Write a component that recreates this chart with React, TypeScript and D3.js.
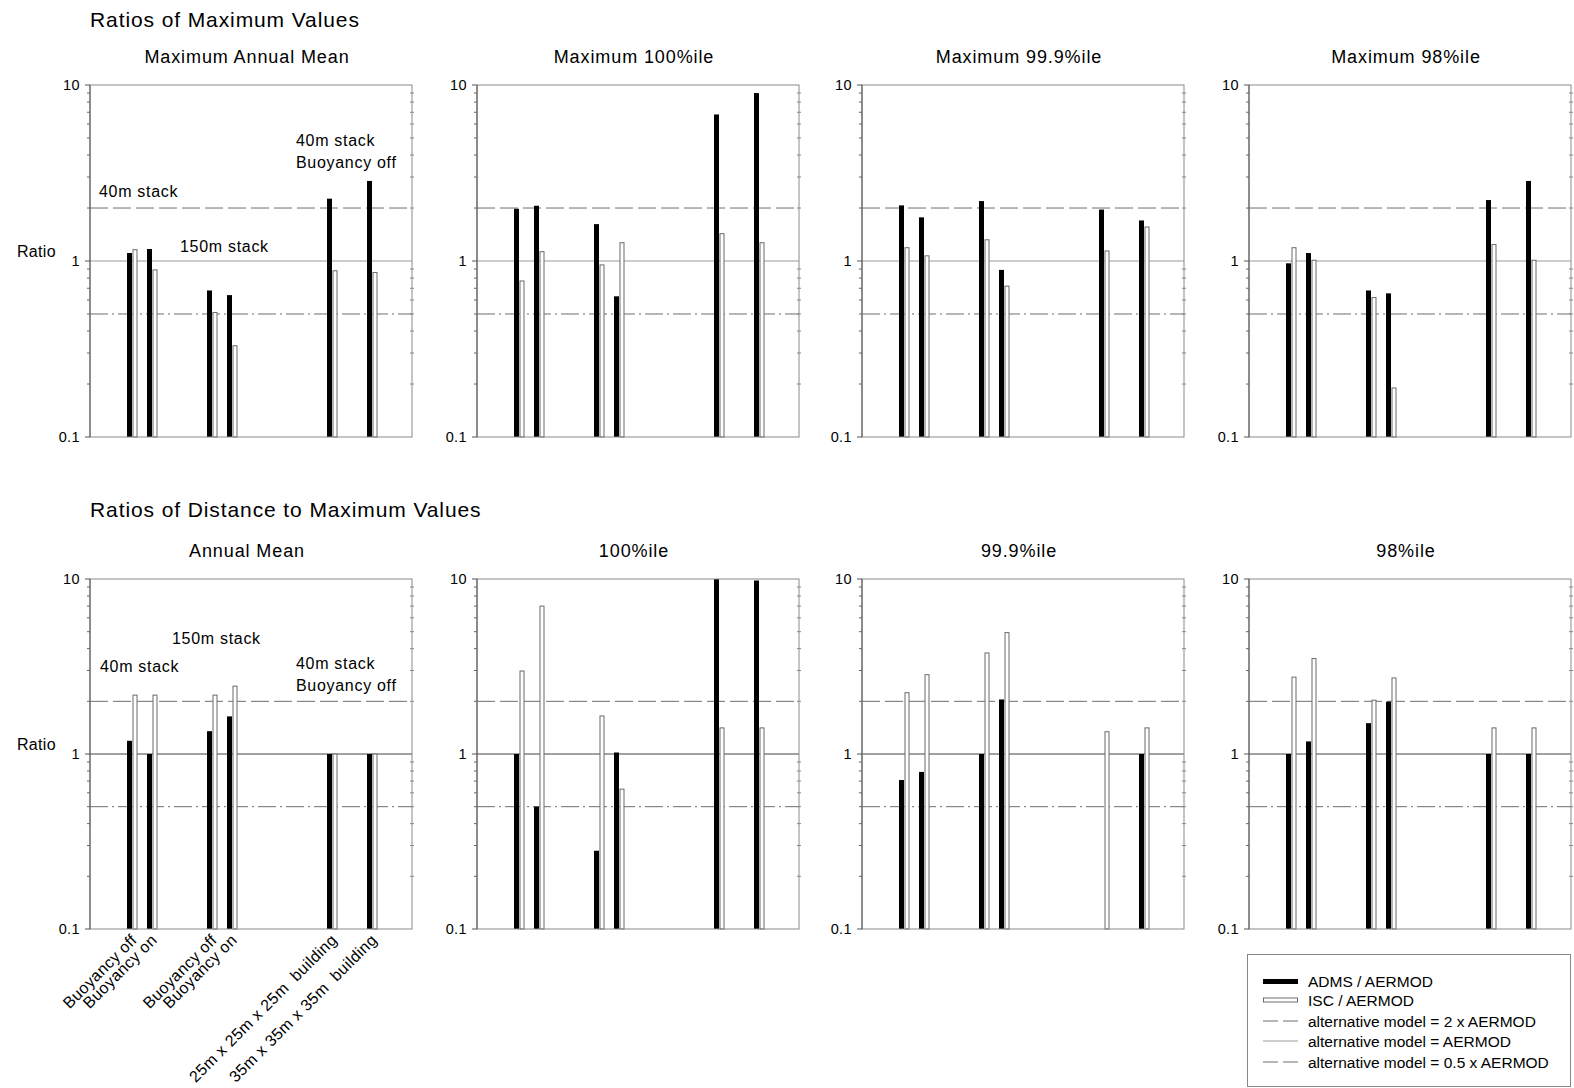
import React from "react";
import * as d3 from "d3";

const FONT = "'Liberation Sans', Arial, Helvetica, sans-serif";

// ---------- data ----------
const categorySlots = [2, 3, 6, 7, 12, 14];
const categoryLabels = [
  "Buoyancy off",
  "Buoyancy on",
  "Buoyancy off",
  "Buoyancy on",
  "25m x 25m x 25m  building",
  "35m x 35m x 35m  building",
];

const topTitles = ["Maximum Annual Mean", "Maximum 100%ile", "Maximum 99.9%ile", "Maximum 98%ile"];
const bottomTitles = ["Annual Mean", "100%ile", "99.9%ile", "98%ile"];

// Ratios of maximum values
const admsMaxAnnual = [1.11, 1.17, 0.68, 0.64, 2.26, 2.85];
const iscMaxAnnual = [1.16, 0.89, 0.51, 0.33, 0.88, 0.86];
const admsMax100 = [1.98, 2.06, 1.62, 0.63, 6.8, 9.0];
const iscMax100 = [0.77, 1.13, 0.95, 1.27, 1.43, 1.27];
const admsMax999 = [2.07, 1.77, 2.19, 0.89, 1.96, 1.7];
const iscMax999 = [1.19, 1.07, 1.32, 0.72, 1.14, 1.56];
const admsMax98 = [0.97, 1.11, 0.68, 0.655, 2.22, 2.85];
const iscMax98 = [1.19, 1.01, 0.62, 0.19, 1.24, 1.01];

// Ratios of distance to maximum values
const admsDistAnnual = [1.19, 1.0, 1.35, 1.64, 1.0, 1.0];
const iscDistAnnual = [2.17, 2.17, 2.17, 2.44, 1.0, 1.0];
const admsDist100 = [1.0, 0.5, 0.28, 1.02, 10.0, 9.8];
const iscDist100 = [2.98, 7.0, 1.65, 0.63, 1.41, 1.41];
const admsDist999 = [0.71, 0.79, 1.0, 2.05, null, 1.0];
const iscDist999 = [2.24, 2.84, 3.78, 4.94, 1.34, 1.41];
const admsDist98 = [1.0, 1.18, 1.5, 1.99, 1.0, 1.0];
const iscDist98 = [2.75, 3.51, 2.03, 2.72, 1.41, 1.41];

const yDomain = [0.1, 10];
const yMajorTicks = [0.1, 1, 10];
const yMajorLabels = ["0.1", "1", "10"];
const refTwice = 2;
const refEqual = 1;
const refHalf = 0.5;

const legendLabels = [
  "ADMS / AERMOD",
  "ISC / AERMOD",
  "alternative model = 2 x AERMOD",
  "alternative model = AERMOD",
  "alternative model = 0.5 x AERMOD",
];

// ---------- layout ----------
const W = 1574;
const H = 1088;
const panelLefts = [90, 477, 862, 1249];
const panelWidth = 322;
const topRow = { top: 85, bottom: 437 };
const bottomRow = { top: 579, bottom: 929 };

const DASH2 = "18,5";
const DASHHALF = "18,4,2,4";
const REFGRAY = "#6e6e6e";

type Ann = { text: string; dx: number; dy: number };

function Panel(props: {
  left: number;
  top: number;
  bottom: number;
  title: string;
  adms: (number | null)[];
  isc: (number | null)[];
  unityColor: string;
  showXLabels?: boolean;
  showRatio?: boolean;
  annotations?: Ann[];
}) {
  const { left, top, bottom, title, adms, isc, unityColor, showXLabels, showRatio, annotations } = props;
  const right = left + panelWidth;
  const x = d3.scaleLinear().domain([-0.1, 16]).range([left, right]);
  const y = d3.scaleLog().domain(yDomain).range([bottom, top]);
  const allTicks = y.ticks();
  const minor = allTicks.filter((t) => !yMajorTicks.some((m) => Math.abs(m - t) < 1e-9));
  const bw = 5;

  return (
    <g>
      <text
        x={(left + right) / 2 - 4}
        y={top - 22}
        textAnchor="middle"
        fontSize={18}
        letterSpacing={0.9}
        fontFamily={FONT}
        fill="#000"
      >
        {title}
      </text>
      {/* reference lines */}
      <line x1={left} x2={right} y1={y(refTwice)} y2={y(refTwice)} stroke={REFGRAY} strokeWidth={1} strokeDasharray={DASH2} />
      <line x1={left} x2={right} y1={y(refEqual)} y2={y(refEqual)} stroke={unityColor} strokeWidth={1} />
      <line x1={left} x2={right} y1={y(refHalf)} y2={y(refHalf)} stroke={REFGRAY} strokeWidth={1} strokeDasharray={DASHHALF} />
      {/* bars */}
      {categorySlots.map((s, i) => {
        const cx = Math.round(x(s));
        const a = adms[i];
        const b = isc[i];
        return (
          <g key={i}>
            {a != null && (
              <rect x={cx - bw} y={y(a)} width={bw} height={bottom - y(a)} fill="#000" />
            )}
            {b != null && (
              <rect
                x={cx + 1}
                y={y(b)}
                width={bw - 1}
                height={bottom - y(b)}
                fill="#fff"
                stroke="#6a6a6a"
                strokeWidth={1}
              />
            )}
          </g>
        );
      })}
      {/* frame */}
      <rect x={left} y={top} width={panelWidth} height={bottom - top} fill="none" stroke="#8a8a8a" strokeWidth={1} />
      <line x1={left} x2={left} y1={top} y2={bottom} stroke="#555" strokeWidth={1} />
      {/* minor ticks */}
      {minor.map((t, i) => (
        <g key={"m" + i}>
          <line x1={left - 3} x2={left} y1={y(t)} y2={y(t)} stroke="#666" strokeWidth={1} />
          <line x1={right - 2} x2={right + 2} y1={y(t)} y2={y(t)} stroke="#888" strokeWidth={1} />
        </g>
      ))}
      {yMajorTicks.map((t, i) => (
        <g key={"M" + i}>
          <line x1={left - 5} x2={left} y1={y(t)} y2={y(t)} stroke="#555" strokeWidth={1} />
          <text
            x={left - 10}
            y={y(t)}
            dy="0.35em"
            textAnchor="end"
            fontSize={14.5}
            letterSpacing={0.4}
            fontFamily={FONT}
            fill="#000"
          >
            {yMajorLabels[i]}
          </text>
        </g>
      ))}
      {showRatio && (
        <text x={17} y={y(1) - 4} fontSize={16} letterSpacing={0.3} fontFamily={FONT} fill="#000">
          Ratio
        </text>
      )}
      {annotations &&
        annotations.map((a, i) => (
          <text
            key={"a" + i}
            x={left + a.dx}
            y={top + a.dy}
            fontSize={16}
            letterSpacing={0.7}
            fontFamily={FONT}
            fill="#000"
          >
            {a.text}
          </text>
        ))}
      {showXLabels &&
        categorySlots.map((s, i) => {
          const px = Math.round(x(s)) + 6;
          const py = bottom + 12;
          return (
            <text
              key={"x" + i}
              transform={`translate(${px},${py}) rotate(-45)`}
              textAnchor="end"
              fontSize={16}
              letterSpacing={0.4}
              fontFamily={FONT}
              fill="#000"
              style={{ whiteSpace: "pre" }}
            >
              {categoryLabels[i]}
            </text>
          );
        })}
    </g>
  );
}

export default function App() {
  const topData = [
    [admsMaxAnnual, iscMaxAnnual],
    [admsMax100, iscMax100],
    [admsMax999, iscMax999],
    [admsMax98, iscMax98],
  ];
  const bottomData = [
    [admsDistAnnual, iscDistAnnual],
    [admsDist100, iscDist100],
    [admsDist999, iscDist999],
    [admsDist98, iscDist98],
  ];
  const topAnn: Ann[] = [
    { text: "40m stack", dx: 9, dy: 112 },
    { text: "150m stack", dx: 90, dy: 167 },
    { text: "40m stack", dx: 206, dy: 61 },
    { text: "Buoyancy off", dx: 206, dy: 83 },
  ];
  const bottomAnn: Ann[] = [
    { text: "150m stack", dx: 82, dy: 65 },
    { text: "40m stack", dx: 10, dy: 93 },
    { text: "40m stack", dx: 206, dy: 90 },
    { text: "Buoyancy off", dx: 206, dy: 112 },
  ];

  const lgX = 1263;
  const lgTextX = 1308;
  const lgRows = [981, 1000, 1021, 1041, 1062];

  return (
    <svg
      width={W}
      height={H}
      viewBox={`0 0 ${W} ${H}`}
      style={{ position: "absolute", left: 0, top: 0, background: "#fff" }}
    >
      <rect x={0} y={0} width={W} height={H} fill="#fff" />
      <text x={90} y={27} fontSize={21} letterSpacing={0.9} fontFamily={FONT} fill="#000">
        Ratios of Maximum Values
      </text>
      <text x={90} y={517} fontSize={21} letterSpacing={0.9} fontFamily={FONT} fill="#000">
        Ratios of Distance to Maximum Values
      </text>
      {panelLefts.map((l, i) => (
        <Panel
          key={"t" + i}
          left={l}
          top={topRow.top}
          bottom={topRow.bottom}
          title={topTitles[i]}
          adms={topData[i][0]}
          isc={topData[i][1]}
          unityColor="#9a9a9a"
          showRatio={i === 0}
          annotations={i === 0 ? topAnn : undefined}
        />
      ))}
      {panelLefts.map((l, i) => (
        <Panel
          key={"b" + i}
          left={l}
          top={bottomRow.top}
          bottom={bottomRow.bottom}
          title={bottomTitles[i]}
          adms={bottomData[i][0]}
          isc={bottomData[i][1]}
          unityColor="#444"
          showRatio={i === 0}
          showXLabels={i === 0}
          annotations={i === 0 ? bottomAnn : undefined}
        />
      ))}
      {/* legend */}
      <rect x={1247.5} y={954.5} width={323} height={132} fill="#fff" stroke="#888" strokeWidth={1} />
      <rect x={lgX} y={lgRows[0] - 2} width={35} height={5} fill="#000" />
      <rect x={lgX + 0.5} y={lgRows[1] - 2} width={34} height={4} fill="#fff" stroke="#6a6a6a" strokeWidth={1} />
      <line x1={lgX} x2={lgX + 35} y1={lgRows[2]} y2={lgRows[2]} stroke={REFGRAY} strokeDasharray="15,5" />
      <line x1={lgX} x2={lgX + 35} y1={lgRows[3]} y2={lgRows[3]} stroke="#9a9a9a" />
      <line x1={lgX} x2={lgX + 35} y1={lgRows[4]} y2={lgRows[4]} stroke={REFGRAY} strokeDasharray="15,5" />
      {legendLabels.map((t, i) => (
        <text key={i} x={lgTextX} y={lgRows[i] + 5.5} fontSize={15.5} fontFamily={FONT} fill="#000">
          {t}
        </text>
      ))}
    </svg>
  );
}
